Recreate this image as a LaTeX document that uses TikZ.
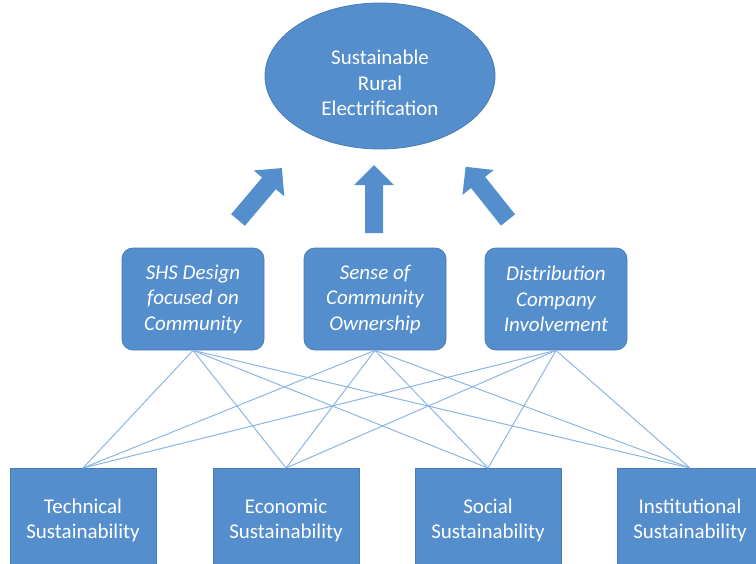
\documentclass[tikz,border=0pt]{standalone}
\usepackage{fontspec}
\setmainfont{Carlito}
\usetikzlibrary{shapes.geometric}
\definecolor{boxblue}{RGB}{84,142,205}
\definecolor{edgeblue}{RGB}{70,124,186}
\definecolor{linkblue}{RGB}{140,182,226}
\tikzset{
  goal/.style={ellipse, fill=boxblue, draw=edgeblue, line width=0.8pt,
    minimum width=230pt, minimum height=146pt, inner sep=0pt},
  goaltext/.style={text=white, align=center, inner sep=0pt,
    font=\fontsize{21}{25.5}\selectfont},
  factor/.style={rectangle, rounded corners=11pt, fill=boxblue, draw=edgeblue,
    line width=0.8pt, minimum width=142pt, minimum height=102pt,
    text=white, align=center, font=\fontsize{21}{25.5}\selectfont\itshape},
  pillar/.style={rectangle, fill=boxblue, draw=edgeblue, line width=0.8pt,
    minimum width=146pt, minimum height=104pt, anchor=north,
    text=white, align=center, font=\fontsize{21}{25}\selectfont},
  link/.style={draw=linkblue, line width=1pt},
  blockarrow/.pic={
    \fill[boxblue] (0,-9) -- (48,-9) -- (48,-20) -- (68,0) -- (48,20)
      -- (48,9) -- (0,9) -- cycle;
  }
}
\begin{document}
\begin{tikzpicture}[x=1pt,y=-1pt]
  \useasboundingbox (0,0) rectangle (756,563);
  \clip (0,0) rectangle (756,563);

  % goal at the top
  \node[goal] (goal) at (380,76) {};
  \node[goaltext] (goallabel) at (380,83) {Sustainable\\Rural\\Electrification};

  % the three contributing factors
  \node[factor] (shs) at (193,299) {SHS Design\\focused on\\Community};
  \node[factor] (own) at (375,299) {Sense of\\Community\\Ownership};
  \node[factor] (dist) at (556,299) {Distribution\\Company\\Involvement};

  % block arrows from the factors up to the goal
  \pic[rotate=49.8] at (238,220) {blockarrow};
  \pic[rotate=90] at (374,233) {blockarrow};
  \pic[rotate=128.5] at (508,220) {blockarrow};

  % the four sustainability pillars
  \node[pillar] (tech) at (83,468) {Technical\\Sustainability};
  \node[pillar] (econ) at (286,468) {Economic\\Sustainability};
  \node[pillar] (soc) at (488,468) {Social\\Sustainability};
  \node[pillar] (inst) at (690,468) {Institutional\\Sustainability};

  % every factor is linked to every pillar
  \foreach \f in {shs,own,dist}
    \foreach \p in {tech,econ,soc,inst}
      \draw[link] (\f.south) -- (\p.north);
\end{tikzpicture}
\end{document}
